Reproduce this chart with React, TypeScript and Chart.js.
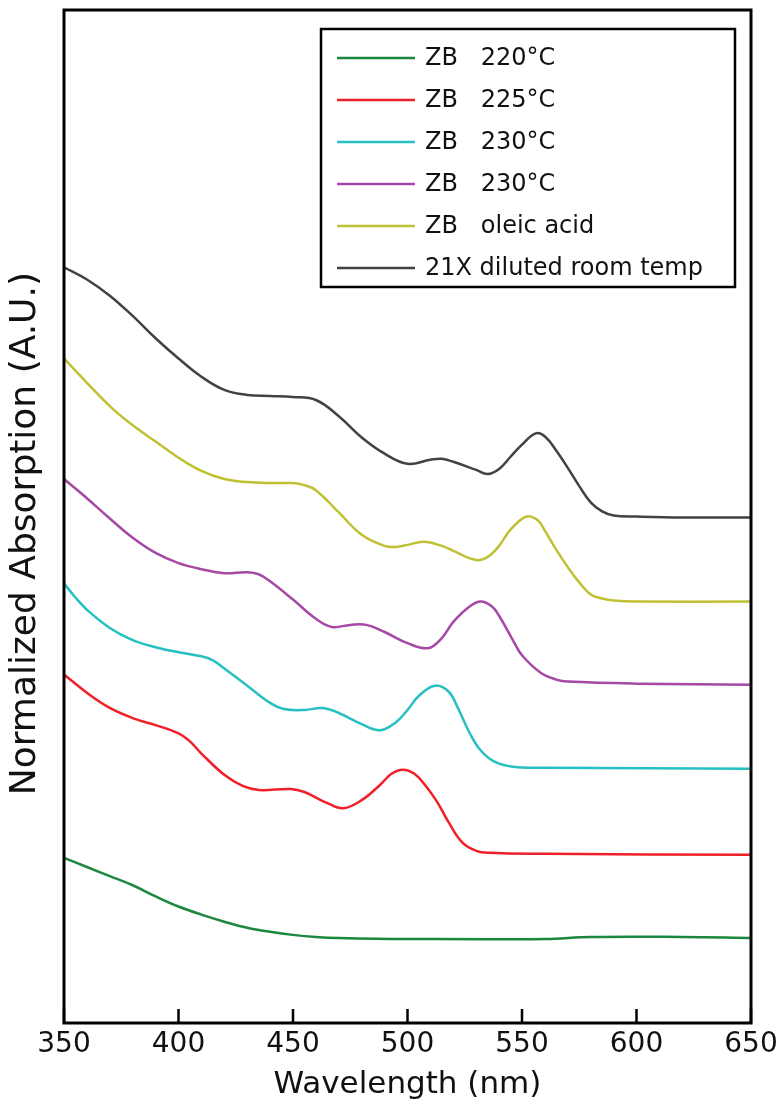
import { useEffect, useRef } from 'react';
import { Chart, registerables } from 'chart.js';

Chart.register(...registerables);

// ---- data (wavelength in nm, normalized absorption, offset-stacked) ----
const X_TICKS = [350, 400, 450, 500, 550, 600, 650];

const SERIES_LABELS = [
  'ZB   220°C',
  'ZB   225°C',
  'ZB   230°C',
  'ZB   230°C',
  'ZB   oleic acid',
  '21X diluted room temp',
];

const SERIES_COLORS = [
  'rgb(28,135,62)',
  'rgb(240,32,40)',
  'rgb(38,192,194)',
  'rgb(166,72,166)',
  'rgb(192,192,52)',
  'rgb(66,66,66)',
];

const WL_220 = [350, 360, 370, 380, 390, 400, 410, 420, 430, 440, 450, 460, 470, 500, 560, 580, 620, 650];
const ABS_220 = [0.163, 0.154, 0.145, 0.136, 0.125, 0.115, 0.107, 0.1, 0.094, 0.09, 0.087, 0.085, 0.084, 0.083, 0.083, 0.085, 0.085, 0.084];

const WL_225 = [350, 360, 370, 380, 390, 400, 405, 410, 420, 428, 435, 449, 455, 465, 472, 480, 488, 493, 498, 503, 508, 513, 518, 524, 530, 535, 560, 650];
const ABS_225 = [0.344, 0.326, 0.311, 0.301, 0.294, 0.286, 0.278, 0.266, 0.245, 0.234, 0.23, 0.231, 0.228, 0.217, 0.212, 0.22, 0.235, 0.246, 0.25, 0.246, 0.234, 0.218, 0.198, 0.178, 0.17, 0.168, 0.167, 0.166];

const WL_230A = [350, 355, 360, 370, 380, 390, 400, 410, 415, 420, 430, 440, 446, 455, 463, 470, 480, 488, 495, 500, 505, 512, 518, 522, 527, 532, 538, 546, 560, 650];
const ABS_230A = [0.434, 0.42, 0.408, 0.39, 0.378, 0.371, 0.366, 0.362, 0.358, 0.35, 0.333, 0.316, 0.31, 0.309, 0.311, 0.306, 0.295, 0.289, 0.297, 0.309, 0.323, 0.333, 0.327, 0.311, 0.287, 0.269, 0.258, 0.253, 0.252, 0.251];

const WL_230B = [350, 360, 370, 380, 390, 400, 410, 420, 430, 435, 440, 450, 460, 467, 475, 482, 490, 500, 509, 515, 520, 527, 532, 537, 540, 546, 550, 558, 565, 570, 600, 650];
const ABS_230B = [0.537, 0.518, 0.498, 0.479, 0.464, 0.454, 0.448, 0.444, 0.445, 0.443, 0.436, 0.418, 0.399, 0.391, 0.393, 0.393, 0.386, 0.375, 0.37, 0.38, 0.396, 0.411, 0.416, 0.411, 0.402, 0.378, 0.363, 0.346, 0.339, 0.337, 0.335, 0.334];

const WL_OLEIC = [350, 360, 370, 380, 390, 400, 410, 420, 430, 440, 450, 455, 460, 470, 480, 490, 495, 500, 507, 515, 520, 530, 535, 540, 545, 552, 557, 560, 565, 570, 575, 580, 585, 590, 600, 650];
const ABS_OLEIC = [0.656, 0.632, 0.609, 0.59, 0.574, 0.558, 0.545, 0.537, 0.534, 0.533, 0.533, 0.531, 0.526, 0.504, 0.482, 0.471, 0.47, 0.472, 0.475, 0.471, 0.466, 0.457, 0.46, 0.471, 0.487, 0.5, 0.496, 0.486, 0.467, 0.45, 0.435, 0.423, 0.419, 0.417, 0.416, 0.416];

const WL_21X = [350, 360, 370, 380, 390, 400, 410, 420, 430, 440, 450, 460, 470, 480, 490, 500, 510, 515, 520, 530, 535, 540, 545, 550, 556, 560, 565, 570, 575, 580, 585, 590, 600, 620, 650];
const ABS_21X = [0.746, 0.734, 0.718, 0.698, 0.676, 0.656, 0.638, 0.625, 0.62, 0.619, 0.618, 0.615, 0.599, 0.578, 0.562, 0.552, 0.556, 0.557, 0.554, 0.546, 0.542, 0.547, 0.559, 0.571, 0.582, 0.579, 0.565, 0.548, 0.53, 0.514, 0.505, 0.501, 0.5, 0.499, 0.499];

const SERIES_X = [WL_220, WL_225, WL_230A, WL_230B, WL_OLEIC, WL_21X];
const SERIES_Y = [ABS_220, ABS_225, ABS_230A, ABS_230B, ABS_OLEIC, ABS_21X];

const FONT = '"DejaVu Sans", Verdana, sans-serif';

const framePlugin = {
  id: 'frameTicksLegend',
  afterDraw(chart: any) {
    const { ctx, chartArea, scales } = chart;
    const { left, top, right, bottom } = chartArea;
    ctx.save();
    // frame
    ctx.strokeStyle = '#000';
    ctx.lineWidth = 3;
    ctx.strokeRect(left, top, right - left, bottom - top);
    // inward ticks on x axis
    ctx.lineWidth = 2.5;
    X_TICKS.forEach((v) => {
      const px = scales.x.getPixelForValue(v);
      ctx.beginPath();
      ctx.moveTo(px, bottom);
      ctx.lineTo(px, bottom - 14);
      ctx.stroke();
    });
    // legend box
    const bx = right - 430;
    const by = top + 19;
    const bw = 414;
    const bh = 258;
    ctx.lineWidth = 2.5;
    ctx.strokeStyle = '#000';
    ctx.strokeRect(bx, by, bw, bh);
    ctx.font = `24px ${FONT}`;
    ctx.textBaseline = 'middle';
    ctx.textAlign = 'left';
    chart.data.datasets.forEach((ds: any, i: number) => {
      const rowY = by + 29 + i * 42;
      ctx.strokeStyle = ds.borderColor;
      ctx.lineWidth = 2.5;
      ctx.beginPath();
      ctx.moveTo(bx + 16, rowY);
      ctx.lineTo(bx + 94, rowY);
      ctx.stroke();
      ctx.fillStyle = '#111';
      ctx.fillText(ds.label, bx + 104, rowY + 1);
    });
    ctx.restore();
  },
};

export default function App() {
  const ref = useRef<HTMLCanvasElement | null>(null);

  useEffect(() => {
    if (!ref.current) return;
    const datasets = SERIES_LABELS.map((label, i) => ({
      label,
      data: SERIES_X[i].map((x, j) => ({ x, y: SERIES_Y[i][j] })),
      borderColor: SERIES_COLORS[i],
      backgroundColor: SERIES_COLORS[i],
      borderWidth: 2.5,
      pointRadius: 0,
      fill: false,
      tension: 0.4,
    }));

    const chart = new Chart(ref.current, {
      type: 'line',
      data: { datasets },
      options: {
        animation: false,
        responsive: false,
        devicePixelRatio: 1,
        layout: { padding: { top: 10, right: 32, left: 0, bottom: 0 } },
        plugins: {
          legend: { display: false },
          tooltip: { enabled: false },
        },
        scales: {
          x: {
            type: 'linear',
            min: 350,
            max: 650,
            afterBuildTicks: (scale: any) => {
              scale.ticks = X_TICKS.map((v) => ({ value: v }));
            },
            ticks: {
              color: '#111',
              font: { family: FONT, size: 28 },
              padding: 5,
              maxRotation: 0,
              autoSkip: false,
            },
            grid: { display: false, drawTicks: false },
            border: { display: false },
            title: {
              display: true,
              text: 'Wavelength (nm)',
              color: '#111',
              font: { family: FONT, size: 31 },
              padding: { top: 0, bottom: 0 },
            },
            afterFit: (scale: any) => {
              scale.height = 81;
            },
          },
          y: {
            type: 'linear',
            min: 0,
            max: 1,
            ticks: { display: false },
            grid: { display: false, drawTicks: false },
            border: { display: false },
            title: {
              display: true,
              text: 'Normalized Absorption (A.U.)   ',
              color: '#111',
              font: { family: FONT, size: 36 },
              padding: { top: 4, bottom: 0 },
            },
            afterFit: (scale: any) => {
              scale.width = 64;
            },
          },
        },
      },
      plugins: [framePlugin],
    });
    return () => chart.destroy();
  }, []);

  return (
    <div style={{ position: 'absolute', left: 0, top: 0, width: 783, height: 1104, background: '#fff' }}>
      <canvas ref={ref} width={783} height={1104} />
    </div>
  );
}
